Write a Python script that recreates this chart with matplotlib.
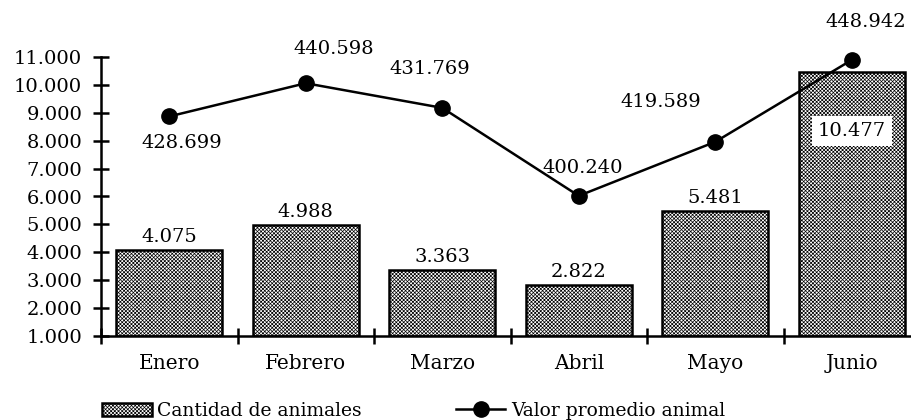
import matplotlib
matplotlib.use("Agg")
import matplotlib.pyplot as plt
from matplotlib.patches import Patch
from matplotlib.lines import Line2D
from matplotlib.ticker import FixedLocator, FuncFormatter

# ---- data ----
months = ["Enero", "Febrero", "Marzo", "Abril", "Mayo", "Junio"]
cantidad = [4075, 4988, 3363, 2822, 5481, 10477]
valor_promedio = [428699, 440598, 431769, 400240, 419589, 448942]
y_ticks = [1000, 2000, 3000, 4000, 5000, 6000, 7000, 8000, 9000, 10000, 11000]
legend_labels = ["Cantidad de animales", "Valor promedio animal"]

# label offsets (points) for the line value labels
line_label_offsets = [(9, -19), (20, 25), (-9, 28), (3, 20), (-39, 29), (10, 27)]


def es_fmt(v, pos=None):
    return f"{v:,.0f}".replace(",", ".")


plt.rcParams["font.family"] = ["DejaVu Serif"]
plt.rcParams["hatch.linewidth"] = 0.5

HATCH = "xxxxxxxxx"

fig = plt.figure(figsize=(9.11, 4.20), dpi=100)
ax = fig.add_axes([101 / 911, 84 / 420, 819 / 911, 279 / 420])

x = list(range(len(months)))
bars = ax.bar(x, [c - y_ticks[0] for c in cantidad], bottom=y_ticks[0], width=0.78,
              facecolor="white", edgecolor="black", linewidth=1.8, hatch=HATCH,
              zorder=2)

ax.set_xlim(-0.5, len(months) - 0.5)
ax.set_ylim(y_ticks[0], y_ticks[-1])

for s in ["top", "right"]:
    ax.spines[s].set_visible(False)
for s in ["left", "bottom"]:
    ax.spines[s].set_linewidth(1.8)

ax.yaxis.set_major_locator(FixedLocator(y_ticks))
ax.yaxis.set_major_formatter(FuncFormatter(es_fmt))
ax.tick_params(axis="y", direction="inout", length=11, width=1.8, pad=8, labelsize=14)

ax.set_xticks(x)
ax.set_xticklabels(months)
ax.set_xticks([i - 0.5 for i in range(len(months) + 1)], minor=True)
ax.tick_params(axis="x", which="major", length=0, pad=13, labelsize=14.5)
ax.tick_params(axis="x", which="minor", direction="inout", length=11, width=1.8)

for i, c in enumerate(cantidad):
    if i == len(cantidad) - 1:
        ax.annotate(es_fmt(c), (i, c), xytext=(0, -43), textcoords="offset points",
                    ha="center", va="center", fontsize=14, zorder=5,
                    bbox=dict(boxstyle="square,pad=0.3", facecolor="white", edgecolor="none"))
    else:
        ax.annotate(es_fmt(c), (i, c), xytext=(0, 3), textcoords="offset points",
                    ha="center", va="bottom", fontsize=14, zorder=5)

ax2 = ax.twinx()
ax2.set_ylim(350000, 450000)
ax2.axis("off")
ax2.plot(x, valor_promedio, color="black", linewidth=1.8, marker="o", markersize=11,
         zorder=4, clip_on=False)
for i, v in enumerate(valor_promedio):
    dx, dy = line_label_offsets[i]
    ax2.annotate(es_fmt(v), (i, v), xytext=(dx, dy), textcoords="offset points",
                 ha="center", va="center", fontsize=14, annotation_clip=False)

handles = [
    Patch(facecolor="white", edgecolor="black", linewidth=1.8, hatch=HATCH),
    Line2D([], [], color="black", linewidth=1.8, marker="o", markersize=11),
]
fig.legend(handles, legend_labels, loc="center left", bbox_to_anchor=(102 / 911, 9 / 420),
           ncol=2, frameon=False, fontsize=13.5, handlelength=2.65, handletextpad=0.3,
           columnspacing=5.0, borderpad=0, borderaxespad=0)

fig.savefig("out.png", dpi=100)
